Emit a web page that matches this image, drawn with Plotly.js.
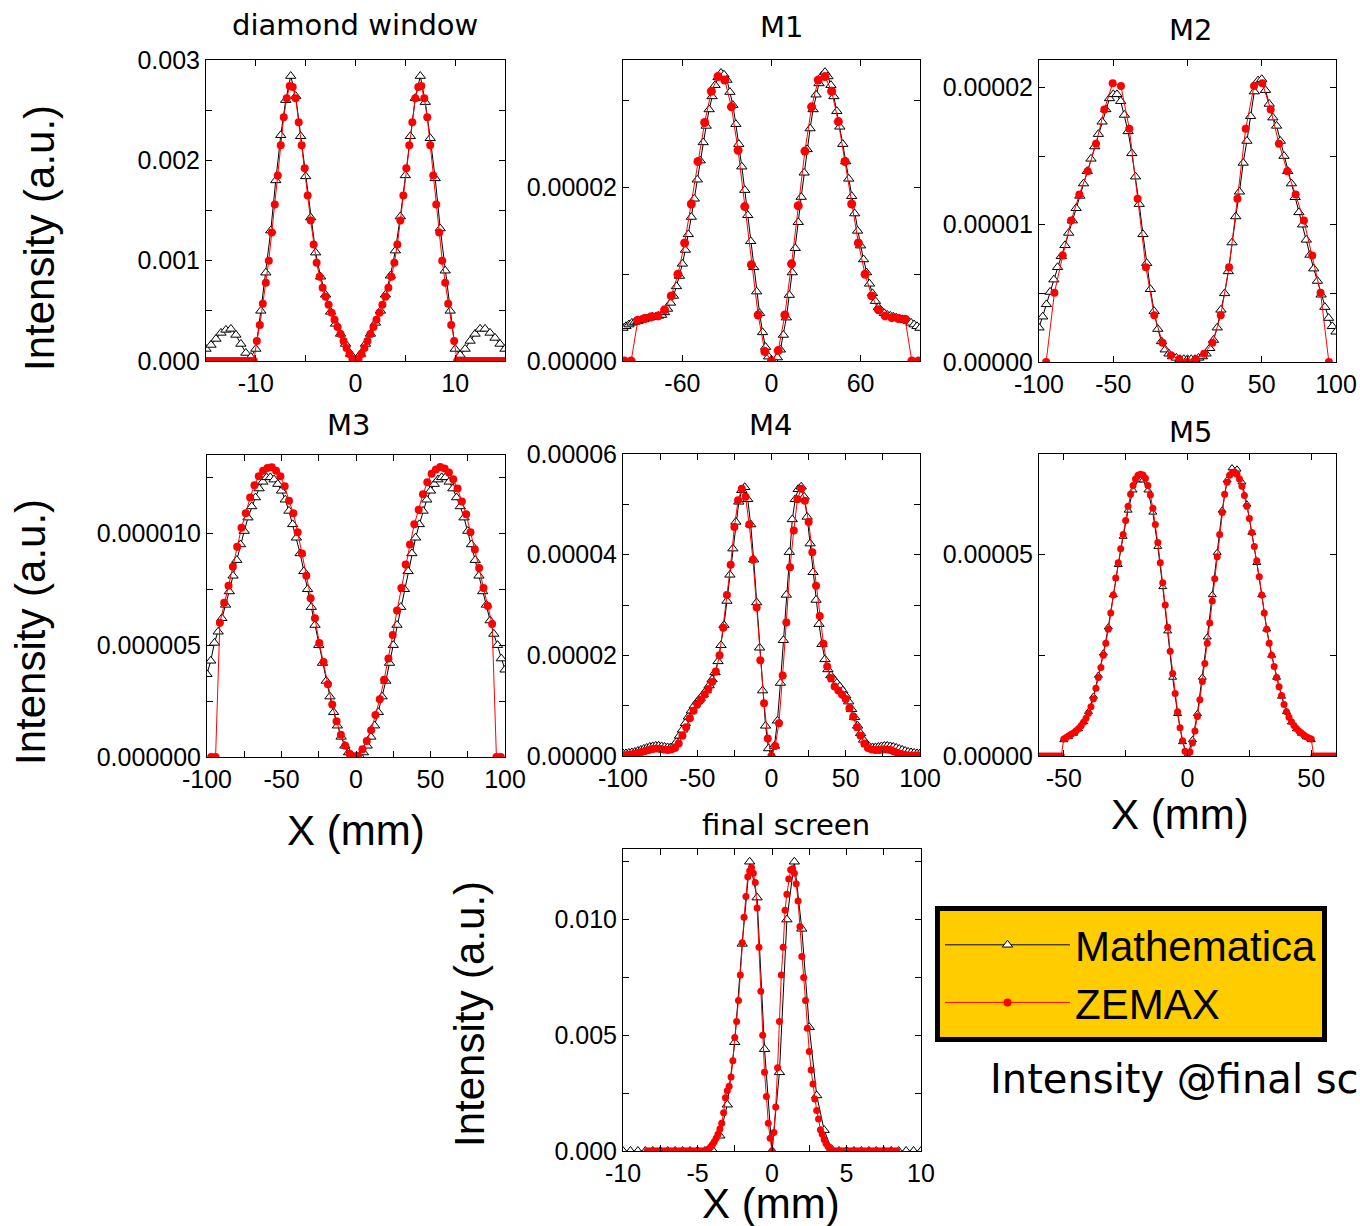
<!DOCTYPE html>
<html>
<head>
<meta charset="utf-8">
<script src="https://cdn.plot.ly/plotly-3.0.1.min.js"></script>
<style>
  html, body { margin: 0; padding: 0; background: #ffffff; }
  #chart { width: 1360px; height: 1226px; }
</style>
</head>
<body>
<div id="chart"></div>
<script>
// ---------------- DATA ----------------
// Series names
const seriesNames = ["Mathematica", "ZEMAX"];

// diamond window  (intensity values in units of 1e-3)
const dwMathX = [-15,-14.5,-14,-13.5,-13,-12.5,-12,-11.5,-11,-10.5,-10,-9.5,-9,-8.5,-8,-7.5,-7,-6.5,-6,-5.5,-5,-4.5,-4,-3.5,-3,-2.5,-2,-1.5,-1,-0.5,0,0.5,1,1.5,2,2.5,3,3.5,4,4.5,5,5.5,6,6.5,7,7.5,8,8.5,9,9.5,10,10.5,11,11.5,12,12.5,13,13.5,14,14.5,15];
const dwMathY = [0.12,0.16,0.22,0.28,0.31,0.32,0.26,0.17,0.08,0.04,0.12,
  0.5,0.88,1.3,1.8,2.25,2.6,2.84,2.64,2.24,1.84,1.43,1.08,0.84,0.66,0.49,0.37,0.27,0.17,0.07,0.0,
  0.07,0.17,0.27,0.38,0.5,0.66,0.85,1.1,1.44,1.85,2.24,2.62,2.84,2.58,2.22,1.82,1.32,0.9,0.5,0.12,
  0.06,0.12,0.2,0.27,0.32,0.32,0.28,0.23,0.17,0.12];
const dwZemaxX = [-15,-14.7,-14.4,-14.1,-13.8,-13.5,-13.2,-12.9,-12.6,-12.3,-12,-11.7,-11.4,-11.1,-10.8,-10.5,-10.2,
  -9.9,-9.6,-9.3,-9,-8.7,-8.4,-8.1,-7.8,-7.5,-7.2,-6.9,-6.6,-6.3,-6,-5.7,-5.4,-5.1,-4.8,-4.5,-4.2,-3.9,-3.6,-3.3,-3,-2.7,-2.4,-2.1,-1.8,-1.5,-1.2,-0.9,-0.6,-0.3,
  0,
  0.3,0.6,0.9,1.2,1.5,1.8,2.1,2.4,2.7,3,3.3,3.6,3.9,4.2,4.5,4.8,5.1,5.4,5.7,6,6.3,6.6,6.9,7.2,7.5,7.8,8.1,8.4,8.7,9,9.3,9.6,9.9,
  10.2,10.5,10.8,11.1,11.4,11.7,12,12.3,12.6,12.9,13.2,13.5,13.8,14.1,14.4,14.7,15];
const dwZemaxY = [0,0,0,0,0,0,0,0,0,0,0,0,0,0,0,0,0,
  0.2,0.36,0.57,0.78,1.0,1.28,1.56,1.85,2.15,2.43,2.62,2.74,2.73,2.62,2.38,2.15,1.92,1.65,1.4,1.16,0.98,0.84,0.73,0.64,0.56,0.48,0.41,0.34,0.27,0.2,0.13,0.07,0.02,
  0,
  0.02,0.07,0.13,0.2,0.27,0.34,0.41,0.48,0.56,0.64,0.73,0.84,0.98,1.16,1.4,1.65,1.92,2.15,2.38,2.62,2.73,2.74,2.62,2.43,2.15,1.85,1.56,1.28,1.0,0.78,0.57,0.36,0.2,
  0,0,0,0,0,0,0,0,0,0,0,0,0,0,0,0,0];

// M1  (units of 1e-5)
const m1MathX = [-100,-98,-96,-94,-92,-90,-88,-86,-84,-82,-80,-78,-76,-74,-72,-70,-68,-66,-64,-62,-60,-58,-56,-54,-52,-50,-48,-46,-44,-42,-40,-38,-36,-34,-32,-30,-28,-26,-24,-22,-20,-18,-16,-14,-12,-10,-8,-6,-4,-2,0,
  2,4,6,8,10,12,14,16,18,20,22,24,26,28,30,32,34,36,38,40,42,44,46,48,50,52,54,56,58,60,62,64,66,68,70,72,74,76,78,80,82,84,86,88,90,92,94,96,98,100];
const m1MathY = [0.38,0.40,0.42,0.44,0.45,0.46,0.47,0.48,0.49,0.50,0.51,0.51,0.52,0.53,0.56,0.60,0.67,0.75,0.86,0.98,
  1.12,1.28,1.46,1.66,1.87,2.09,2.31,2.52,2.71,2.90,3.05,3.18,3.27,3.32,3.30,3.24,3.10,2.95,2.73,2.50,
  2.24,1.97,1.68,1.38,1.08,0.80,0.55,0.33,0.16,0.05,0.01,
  0.0,0.04,0.13,0.30,0.50,0.76,1.02,1.30,1.60,1.89,2.17,2.44,2.68,2.90,3.07,3.20,3.29,3.33,3.28,3.18,
  3.05,2.88,2.70,2.50,2.30,2.10,1.90,1.70,1.50,1.33,1.17,1.02,0.89,0.78,0.69,0.62,0.58,0.55,0.53,0.52,
  0.51,0.50,0.49,0.48,0.47,0.46,0.44,0.42,0.40,0.38];
const m1ZemaxX = [-99,-94.5,-90,-85.5,-81,-76.5,-72,-67.5,-63,-58.5,-54,-49.5,-45,-40.5,-36,-31.5,-27,-22.5,-18,-13.5,-9,-4.5,0,4.5,9,13.5,18,22.5,27,31.5,36,40.5,45,49.5,54,58.5,63,67.5,72,76.5,81,85.5,90,94.5,99];
const m1ZemaxY = [0,0,0.47,0.49,0.51,0.52,0.59,0.75,1.0,1.36,1.81,2.3,2.75,3.11,3.28,3.24,2.93,2.43,1.78,1.11,0.53,0.11,0,
  0.12,0.53,1.12,1.79,2.42,2.93,3.24,3.28,3.11,2.76,2.3,1.81,1.36,1.0,0.75,0.59,0.52,0.5,0.49,0.48,0,0];

// M2  (units of 1e-5)
const m2MathX = [-100,-97.5,-95,-92.5,-90,-87.5,-85,-82.5,-80,-77.5,-75,-72.5,-70,-67.5,-65,-62.5,-60,-57.5,-55,-52.5,-50,-47.5,-45,-42.5,-40,-37.5,-35,-32.5,-30,-27.5,-25,-22.5,-20,-17.5,-15,-12.5,-10,-7.5,-5,-2.5,0,
  2.5,5,7.5,10,12.5,15,17.5,20,22.5,25,27.5,30,32.5,35,37.5,40,42.5,45,47.5,50,52.5,55,57.5,60,62.5,65,67.5,70,72.5,75,77.5,80,82.5,85,87.5,90,92.5,95,97.5,100];
const m2MathY = [0.25,0.33,0.42,0.51,0.60,0.69,0.77,0.85,0.94,1.03,1.12,1.21,1.30,1.39,1.48,1.57,1.66,1.75,1.84,1.92,
  1.95,1.95,1.90,1.80,1.68,1.52,1.35,1.15,0.93,0.72,0.53,0.37,0.24,0.15,0.09,0.06,0.04,0.03,0.02,0.02,0.02,
  0.02,0.02,0.03,0.04,0.06,0.10,0.16,0.25,0.38,0.50,0.66,0.87,1.06,1.24,1.45,1.61,1.79,1.97,2.05,2.06,
  1.98,1.88,1.78,1.72,1.61,1.50,1.39,1.30,1.20,1.09,1.00,0.89,0.78,0.68,0.59,0.49,0.40,0.32,0.26,0.22];
const m2ZemaxX = [-95.2,-89.6,-84,-78.4,-72.8,-67.2,-61.6,-56,-50.4,-44.8,-39.2,-33.6,-28,-22.4,-16.8,-11.2,-5.6,0,5.6,11.2,16.8,22.4,28,33.6,39.2,44.8,50.4,56,61.6,67.2,72.8,78.4,84,89.6,95.2];
const m2ZemaxY = [0,0.505,0.775,1.03,1.22,1.39,1.59,1.84,2.03,2.01,1.70,1.19,0.69,0.34,0.14,0.05,0.02,0,0.02,0.06,0.14,0.34,0.69,1.19,1.70,2.01,2.03,1.84,1.59,1.39,1.22,1.03,0.775,0.505,0];

// M3  (units of 1e-6)
const m3MathX = [-100,-97.5,-95,-92.5,-90,-87.5,-85,-82.5,-80,-77.5,-75,-72.5,-70,-67.5,-65,-62.5,-60,-57.5,-55,-52.5,-50,-47.5,-45,-42.5,-40,-37.5,-35,-32.5,-30,-27.5,-25,-22.5,-20,-17.5,-15,-12.5,-10,-7.5,-5,-2.5,0,
  2.5,5,7.5,10,12.5,15,17.5,20,22.5,25,27.5,30,32.5,35,37.5,40,42.5,45,47.5,50,52.5,55,57.5,60,62.5,65,67.5,70,72.5,75,77.5,80,82.5,85,87.5,90,92.5,95,97.5,100];
const m3MathY = [3.7,4.3,5.1,5.6,6.2,6.8,7.4,8.1,8.8,9.5,10.1,10.7,11.2,11.6,12.0,12.3,12.5,12.5,12.4,12.2,
  11.9,11.5,11.0,10.4,9.8,9.1,8.3,7.5,6.7,5.9,5.0,4.2,3.4,2.7,2.0,1.4,0.9,0.5,0.2,0.05,0.0,
  0.05,0.2,0.5,0.9,1.4,2.0,2.7,3.4,4.2,5.0,5.9,6.7,7.5,8.3,9.1,9.8,10.4,11.0,11.5,11.9,
  12.2,12.4,12.5,12.5,12.3,12.0,11.6,11.2,10.7,10.1,9.5,8.8,8.1,7.4,6.8,6.1,5.5,5.0,4.4,3.9];
const m3ZemaxX = [-97.15,-94.25,-91.35,-88.45,-85.55,-82.65,-79.75,-76.85,-73.95,-71.05,-68.15,-65.25,-62.35,-59.45,-56.55,-53.65,-50.75,-47.85,-44.95,-42.05,-39.15,-36.25,-33.35,-30.45,-27.55,-24.65,-21.75,-18.85,-15.95,-13.05,-10.15,-7.25,-4.35,-1.45,
  1.45,4.35,7.25,10.15,13.05,15.95,18.85,21.75,24.65,27.55,30.45,33.35,36.25,39.15,42.05,44.95,47.85,50.75,53.65,56.55,59.45,62.35,65.25,68.15,71.05,73.95,76.85,79.75,82.65,85.55,88.45,91.35,94.25,97.15];
const m3ZemaxY = [0,0,6.0,6.9,7.65,8.5,9.4,10.25,10.9,11.6,12.15,12.55,12.8,12.92,12.95,12.8,12.55,12.1,11.45,10.9,
  10.05,9.1,8.1,7.1,6.2,5.1,4.25,3.25,2.35,1.6,1.0,0.5,0.15,0.03,
  0.06,0.35,0.72,1.2,1.88,2.58,3.45,4.4,5.45,6.55,7.55,8.6,9.5,10.4,11.05,11.75,12.28,12.66,12.85,12.96,
  12.9,12.72,12.42,12.0,11.42,10.85,10.05,9.28,8.45,7.55,6.75,5.95,0,0];

// M4  (units of 1e-5)
const m4MathX = [-100,-98,-96,-94,-92,-90,-88,-86,-84,-82,-80,-78,-76,-74,-72,-70,-68,-66,-64,-62,-60,-58,-56,-54,-52,-50,-48,-46,-44,-42,-40,-38,-36,-34,-32,-30,-28,-26,-24,-22,-20,-18,-16,-14,-12,-10,-8,-6,-4,-2,0,
  2,4,6,8,10,12,14,16,18,20,22,24,26,28,30,32,34,36,38,40,42,44,46,48,50,52,54,56,58,60,62,64,66,68,70,72,74,76,78,80,82,84,86,88,90,92,94,96,98,100];
const m4MathY = [0.05,0.05,0.06,0.07,0.08,0.1,0.12,0.14,0.16,0.18,0.19,0.2,0.2,0.19,0.18,0.17,0.17,0.2,0.28,0.4,
  0.52,0.65,0.78,0.9,1.0,1.08,1.15,1.22,1.3,1.4,1.52,1.66,1.88,2.2,2.6,3.08,3.6,4.12,4.65,5.05,
  5.28,5.34,5.1,4.6,3.9,3.05,2.15,1.3,0.6,0.15,0.0,
  0.2,0.7,1.45,2.3,3.2,4.05,4.7,5.1,5.3,5.35,5.15,4.75,4.22,3.65,3.1,2.62,2.22,1.92,1.72,1.6,
  1.52,1.45,1.38,1.3,1.2,1.08,0.93,0.77,0.6,0.45,0.32,0.23,0.18,0.17,0.17,0.18,0.19,0.2,0.2,0.19,
  0.18,0.16,0.14,0.12,0.1,0.08,0.07,0.06,0.05,0.05];
const m4ZemaxX = [-100,-97.5,-95,-92.5,-90,-87.5,-85,-82.5,-80,-77.5,-75,-72.5,-70,-67.5,-65,-62.5,-60,-57.5,-55,-52.5,-50,-47.5,-45,-42.5,-40,-37.5,-35,-32.5,-30,-27.5,-25,-22.5,-20,-17.5,-15,-12.5,-10,-7.5,-5,-2.5,0,
  2.5,5,7.5,10,12.5,15,17.5,20,22.5,25,27.5,30,32.5,35,37.5,40,42.5,45,47.5,50,52.5,55,57.5,60,62.5,65,67.5,70,72.5,75,77.5,80,82.5,85,87.5,90,92.5,95,97.5,100];
const m4ZemaxY = [0.01,0.02,0.03,0.04,0.06,0.08,0.1,0.12,0.14,0.15,0.14,0.13,0.12,0.13,0.16,0.25,0.4,0.57,0.75,0.9,
  1.03,1.12,1.22,1.33,1.47,1.68,2.0,2.55,3.2,3.8,4.55,5.08,5.31,5.15,4.6,3.9,2.95,1.9,1.05,0.35,0.0,
  0.2,0.65,1.6,2.65,3.75,4.48,5.1,5.31,5.07,4.65,4.05,3.38,2.78,2.23,1.78,1.55,1.38,1.3,1.22,1.13,
  0.95,0.78,0.57,0.4,0.25,0.16,0.13,0.12,0.12,0.13,0.13,0.12,0.09,0.06,0.04,0.02,0.01,0.01,0.01,0.01];

// M5  (units of 1e-5)
const m5MathX = [-50,-48,-46,-44,-42,-40,-38,-36,-34,-32,-30,-28,-26,-24,-22,-20,-18,-16,-14,-12,-10,-8,-6,-4,-2,0,
  2,4,6,8,10,12,14,16,18,20,22,24,26,28,30,32,34,36,38,40,42,44,46,48,50];
const m5MathY = [0.4,0.48,0.56,0.67,0.85,1.1,1.48,2.0,2.55,3.2,4.0,4.75,5.45,6.1,6.6,6.85,6.85,6.6,6.05,5.2,
  4.2,3.1,1.95,1.05,0.35,0.02,
  0.4,1.05,1.95,2.95,4.0,5.05,6.1,6.85,7.15,7.12,6.8,6.25,5.55,4.8,4.0,3.15,2.5,1.95,1.48,1.1,0.84,0.67,0.56,0.47,0.4];
const m5ZemaxX = [-60,-59,-58,-57,-56,-55,-54,-53,-52,-51,-50,-49,-48,-47,-46,-45,-44,-43,-42,-41,-40,-39,-38,-37,-36,-35,-34,-33,-32,-31,-30,-29,-28,-27,-26,-25,-24,-23,-22,-21,-20,-19,-18,-17,-16,-15,-14,-13,-12,-11,-10,-9,-8,-7,-6,-5,-4,-3,-2,-1,0,
  1,2,3,4,5,6,7,8,9,10,11,12,13,14,15,16,17,18,19,20,21,22,23,24,25,26,27,28,29,30,31,32,33,34,35,36,37,38,39,40,41,42,43,44,45,46,47,48,49,50,51,52,53,54,55,56,57,58,59,60];
const m5ZemaxY = [0,0,0,0,0,0,0,0,0,0,
  0.42,0.46,0.5,0.54,0.58,0.63,0.68,0.75,0.84,0.94,1.06,1.22,1.42,1.68,1.95,2.2,2.5,2.8,3.15,3.55,
  4.0,4.42,4.8,5.15,5.5,5.85,6.2,6.5,6.72,6.88,6.97,7.0,6.98,6.9,6.72,6.48,6.15,5.75,5.3,4.8,
  4.3,3.75,3.2,2.6,2.05,1.55,1.1,0.7,0.38,0.12,0.0,
  0.1,0.32,0.62,0.98,1.4,1.85,2.3,2.8,3.3,3.85,4.4,4.95,5.5,6.05,6.5,6.8,6.97,7.03,7.05,7.0,
  6.88,6.7,6.47,6.2,5.9,5.55,5.2,4.85,4.45,4.0,3.55,3.15,2.8,2.5,2.22,1.95,1.72,1.5,1.28,1.1,
  0.96,0.85,0.76,0.68,0.62,0.57,0.52,0.48,0.45,0.42,
  0,0,0,0,0,0,0,0,0,0];

// final screen  (units of 1e-3)
const fsMathX = [-10,-9.5,-9,-8.5,-8,-7.5,-7,-6.5,-6,-5.5,-5,-4.5,-4,-3.5,-3,-2.5,-2,-1.5,-1,-0.5,0,0.5,1,1.5,2,2.5,3,3.5,4,4.5,5,5.5,6,6.5,7,7.5,8,8.5,9,9.5,10];
const fsMathY = [0,0,0,0,0,0,0,0,0,0,0,0,0.05,0.66,2.0,4.7,8.95,12.5,10.95,4.4,0,3.4,10.0,12.5,9.6,5.35,2.4,0.9,0.08,0,0,0,0,0,0,0,0,0,0,0,0];
const fsZemaxX = [-8.375,-8.25,-8.125,-8,-7.875,-7.75,-7.625,-7.5,-7.375,-7.25,-7.125,-7,-6.875,-6.75,-6.625,-6.5,-6.375,-6.25,-6.125,-6,-5.875,-5.75,-5.625,-5.5,-5.375,-5.25,-5.125,-5,-4.875,-4.75,-4.625,
  -4.5,-4.375,-4.25,-4.125,-4,-3.875,-3.75,-3.625,-3.5,-3.375,-3.25,-3.125,-3,-2.875,-2.75,-2.625,-2.5,-2.375,-2.25,-2.125,-2,-1.875,-1.75,-1.625,-1.5,-1.375,-1.25,-1.125,-1,-0.875,-0.75,-0.625,-0.5,-0.375,-0.25,-0.125,
  0,
  0.125,0.25,0.375,0.5,0.625,0.75,0.875,1,1.125,1.25,1.375,1.5,1.625,1.75,1.875,2,2.125,2.25,2.375,2.5,2.625,2.75,2.875,3,3.125,3.25,3.375,3.5,3.625,3.75,3.875,4,4.125,
  4.25,4.375,4.5,4.625,4.75,4.875,5,5.125,5.25,5.375,5.5,5.625,5.75,5.875,6,6.125,6.25,6.375,6.5,6.625,6.75,6.875,7,7.125,7.25,7.375,7.5,7.625,7.75,7.875,8,8.125,8.25,8.375];
const fsZemaxY = [0,0,0,0,0,0,0,0,0,0,0,0,0,0,0,0,0,0,0,0,0,0,0,0,0,0,0,0,0,0,0,
  0,0.03,0.09,0.17,0.28,0.4,0.55,0.72,0.95,1.2,1.65,2.3,2.6,2.8,3.2,3.9,4.9,5.6,6.5,7.6,9.0,10.1,11.0,11.85,12.1,12.25,12.0,11.6,10.5,8.8,6.9,5.0,3.4,2.35,1.2,0.55,
  0,
  0.8,1.9,3.6,5.6,7.6,8.8,10.4,11.1,11.75,12.15,12.2,12.0,11.55,10.8,9.7,8.4,7.5,6.5,5.3,4.3,3.5,2.9,2.25,1.75,1.38,0.92,0.72,0.5,0.32,0.2,0.1,0.03,0.0,
  0,0,0,0,0,0,0,0,0,0,0,0,0,0,0,0,0,0,0,0,0,0,0,0,0,0,0,0,0,0,0,0,0,0];

// Panel titles and axis labels
const panelTitles = ["diamond window", "M1", "M2", "M3", "M4", "M5", "final screen"];
const yTitle = "Intensity (a.u.)";
const xTitle = "X (mm)";
const sideNote = "Intensity @final screen";

// tick positions / labels per panel (true intensities / mm)
const ticks = [
  {xv:[-15,-10,-5,0,5,10,15], xt:['','-10','','0','','10',''], yv:[0,0.0005,0.001,0.0015,0.002,0.0025,0.003], yt:['0.000','','0.001','','0.002','','0.003']},
  {xv:[-60,0,60], xt:['-60','0','60'], yv:[0,1e-5,2e-5,3e-5], yt:['0.00000','','0.00002','']},
  {xv:[-100,-50,0,50,100], xt:['-100','-50','0','50','100'], yv:[0,0.5e-5,1e-5,1.5e-5,2e-5], yt:['0.00000','','0.00001','','0.00002']},
  {xv:[-100,-75,-50,-25,0,25,50,75,100], xt:['-100','','-50','','0','','50','','100'], yv:[0,2.5e-6,5e-6,7.5e-6,1e-5,1.25e-5], yt:['0.000000','','0.000005','','0.000010','']},
  {xv:[-100,-75,-50,-25,0,25,50,75,100], xt:['-100','','-50','','0','','50','','100'], yv:[0,1e-5,2e-5,3e-5,4e-5,5e-5,6e-5], yt:['0.00000','','0.00002','','0.00004','','0.00006']},
  {xv:[-50,-25,0,25,50], xt:['-50','','0','','50'], yv:[0,2.5e-5,5e-5,7.5e-5], yt:['0.00000','','0.00005','']},
  {xv:[-10,-7.5,-5,-2.5,0,2.5,5,7.5,10], xt:['-10','','-5','','0','','5','','10'], yv:[0,0.0025,0.005,0.0075,0.01,0.0125], yt:['0.000','','0.005','','0.010','']}
];

// ---------------- LAYOUT GEOMETRY (pixels) ----------------
const W = 1360, H = 1226;
const boxes = [ // [left, right, top, bottom] of each plot frame in px
  [206, 505, 60, 361], [623, 920, 60, 361], [1039, 1336, 60, 362],
  [207, 505, 455, 757], [623, 920, 454, 756], [1039, 1336, 454, 756],
  [623, 921, 849, 1151]
];
const xRanges = [[-15,15],[-100,100],[-100,100],[-100,100],[-100,100],[-60,60],[-10,10]];
const yRanges = [[0,0.003],[0,3.47e-5],[0,2.2e-5],[0,1.35e-5],[0,6e-5],[0,7.5e-5],[0,0.01305]];
const units = [1e-3, 1e-5, 1e-5, 1e-6, 1e-5, 1e-5, 1e-3];
const triSize = [9,9,9,9,9,7,9];
const dotSize = [8,9,8,8,8,7,7];

const panelData = [
  [dwMathX, dwMathY, dwZemaxX, dwZemaxY],
  [m1MathX, m1MathY, m1ZemaxX, m1ZemaxY],
  [m2MathX, m2MathY, m2ZemaxX, m2ZemaxY],
  [m3MathX, m3MathY, m3ZemaxX, m3ZemaxY],
  [m4MathX, m4MathY, m4ZemaxX, m4ZemaxY],
  [m5MathX, m5MathY, m5ZemaxX, m5ZemaxY],
  [fsMathX, fsMathY, fsZemaxX, fsZemaxY]
];

const TICKFONT = {family: 'Liberation Sans, Arial, sans-serif', size: 25, color: '#000'};
const LABELFONT = {family: 'Liberation Sans, Arial, sans-serif', size: 42, color: '#000'};
const TITLEFONT = {family: 'DejaVu Sans, sans-serif', size: 29, color: '#000'};

const traces = [];
const layout = {
  width: W, height: H, autosize: false,
  margin: {l: 0, r: 0, t: 0, b: 0},
  paper_bgcolor: '#fff', plot_bgcolor: '#fff',
  showlegend: true,
  legend: {
    x: 935 / W, y: 1 - 906 / H, xanchor: 'left', yanchor: 'top',
    bgcolor: '#FFCC00', bordercolor: '#000', borderwidth: 5,
    font: {family: 'Liberation Sans, Arial, sans-serif', size: 42, color: '#000'},
    itemwidth: 125, itemsizing: 'trace', tracegroupgap: 0
  },
  annotations: [],
  hovermode: false
};

panelData.forEach((d, i) => {
  const n = i + 1;
  const xa = n === 1 ? 'x' : 'x' + n;
  const ya = n === 1 ? 'y' : 'y' + n;
  const u = units[i];
  traces.push({
    type: 'scatter', mode: 'lines+markers', name: seriesNames[0],
    x: d[0], y: d[1].map(v => v * u), xaxis: xa, yaxis: ya,
    line: {color: '#000', width: 1},
    marker: {symbol: 'triangle-up', size: triSize[i], color: '#fff', line: {color: '#000', width: 1}},
    showlegend: i === 0, legendgroup: 'math'
  });
  traces.push({
    type: 'scatter', mode: 'lines+markers', name: seriesNames[1],
    x: d[2], y: d[3].map(v => v * u), xaxis: xa, yaxis: ya,
    line: {color: '#ff0000', width: 1},
    marker: {symbol: 'circle', size: dotSize[i], color: '#ff0000', line: {width: 0}},
    showlegend: i === 0, legendgroup: 'zemax'
  });
  const b = boxes[i];
  const common = {
    showline: true, linecolor: '#000', linewidth: 1, mirror: 'ticks',
    ticks: 'inside', ticklen: 6, tickwidth: 1, tickcolor: '#000',
    showgrid: false, zeroline: false, tickfont: TICKFONT, tickmode: 'array', fixedrange: true
  };
  layout['xaxis' + (n === 1 ? '' : n)] = Object.assign({}, common, {
    domain: [b[0] / W, b[1] / W], range: xRanges[i], anchor: ya,
    tickvals: ticks[i].xv, ticktext: ticks[i].xt
  });
  layout['yaxis' + (n === 1 ? '' : n)] = Object.assign({}, common, {
    domain: [1 - b[3] / H, 1 - b[2] / H], range: yRanges[i], anchor: xa,
    tickvals: ticks[i].yv, ticktext: ticks[i].yt
  });
});

// panel titles
const titlePos = [[355, 25], [781, 27], [1190, 30], [348, 425], [770, 425], [1190, 432], [786, 825]];
panelTitles.forEach((t, i) => {
  layout.annotations.push({text: t, xref: 'paper', yref: 'paper', x: titlePos[i][0] / W, y: 1 - titlePos[i][1] / H,
    xanchor: 'center', yanchor: 'middle', showarrow: false, font: TITLEFONT});
});
// y-axis titles
[[40, 238], [30, 632], [470, 1014]].forEach(p => {
  layout.annotations.push({text: yTitle, xref: 'paper', yref: 'paper', x: p[0] / W, y: 1 - p[1] / H,
    xanchor: 'center', yanchor: 'middle', textangle: -90, showarrow: false, font: LABELFONT});
});
// x-axis titles
[[356, 830], [1180, 814], [771, 1203]].forEach(p => {
  layout.annotations.push({text: xTitle, xref: 'paper', yref: 'paper', x: p[0] / W, y: 1 - p[1] / H,
    xanchor: 'center', yanchor: 'middle', showarrow: false, font: LABELFONT});
});
// side note (runs off the right edge, as in the original slide)
layout.annotations.push({text: sideNote, xref: 'paper', yref: 'paper', x: 988 / W, y: 1 - 1079 / H,
  xanchor: 'left', yanchor: 'middle', showarrow: false,
  font: {family: 'DejaVu Sans, sans-serif', size: 40, color: '#000'}});

Plotly.newPlot('chart', traces, layout, {staticPlot: true, displayModeBar: false});
</script>
</body>
</html>
